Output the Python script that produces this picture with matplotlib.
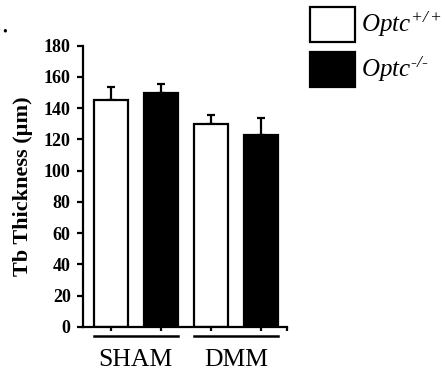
import numpy as np
import matplotlib.pyplot as plt

# Data
groups = ['SHAM', 'DMM']
genotypes = ['$Optc^{+/+}$', '$Optc^{\u2010/\u2010}$']
wt_means = [145.5, 129.7]
ko_means = [149.7, 122.9]
wt_err = [8.0, 6.2]
ko_err = [5.6, 10.6]
yticks = [0, 20, 40, 60, 80, 100, 120, 140, 160, 180]

plt.rcParams['font.family'] = ['Liberation Serif', 'DejaVu Serif']
plt.rcParams['mathtext.fontset'] = 'custom'
plt.rcParams['mathtext.rm'] = 'Liberation Serif:italic'
plt.rcParams['mathtext.it'] = 'Liberation Serif:italic'

fig = plt.figure(figsize=(4.45, 3.71), dpi=100)
ax = fig.add_axes([0.187, 0.1186, 0.458, 0.7584])

width = 0.68
x_wt = np.array([0, 2])
x_ko = np.array([1, 3])

b1 = ax.bar(x_wt, wt_means, width, color='white', edgecolor='black', linewidth=1.6,
            label=genotypes[0], zorder=2)
b2 = ax.bar(x_ko, ko_means, width, color='black', edgecolor='black', linewidth=1.6,
            label=genotypes[1], zorder=2)
# upper error bars only
ax.errorbar(x_wt, wt_means, yerr=[np.zeros(2), wt_err], fmt='none', ecolor='black',
            elinewidth=1.6, capsize=3, capthick=1.6, zorder=1)
ax.errorbar(x_ko, ko_means, yerr=[np.zeros(2), ko_err], fmt='none', ecolor='black',
            elinewidth=1.6, capsize=3, capthick=1.6, zorder=1)

ax.set_xlim(-0.55, 3.52)
ax.set_ylim(0, 180)
ax.set_yticks(yticks)
ax.set_yticklabels([str(t) for t in yticks], fontweight='bold', fontsize=13)
ax.set_xticks([0, 1, 2, 3, 3.52])
ax.set_xticklabels([])

for s in ['top', 'right']:
    ax.spines[s].set_visible(False)
for s in ['left', 'bottom']:
    ax.spines[s].set_linewidth(1.6)
ax.tick_params(axis='y', length=4, width=1.6, pad=5)
ax.tick_params(axis='x', length=3, width=1.6)

ax.set_ylabel('Tb Thickness (µm)', fontweight='bold', fontsize=16)
ax.yaxis.set_label_coords(-0.245, 0.5)

# group lines and labels under the axis
trans = ax.get_xaxis_transform()
for i, g in enumerate(groups):
    left = x_wt[i] - width / 2
    right = x_ko[i] + width / 2
    ax.plot([left, right], [-0.032, -0.032], color='black', lw=1.8,
            transform=trans, clip_on=False)
    ax.text((x_wt[i] + x_ko[i]) / 2, -0.118, g, transform=trans, ha='center',
            va='center', fontsize=18.5)

leg = fig.legend(handles=[b1, b2], loc='upper left', bbox_to_anchor=(310 / 445, 1 - 7 / 371),
                 fontsize=18, frameon=False, handlelength=1.8, handleheight=1.75,
                 labelspacing=0.42, handletextpad=0.25, borderaxespad=0, borderpad=0)

fig.text(0.011, 0.915, '•', fontsize=10, ha='center', va='center')

fig.savefig('out.png', dpi=100)
